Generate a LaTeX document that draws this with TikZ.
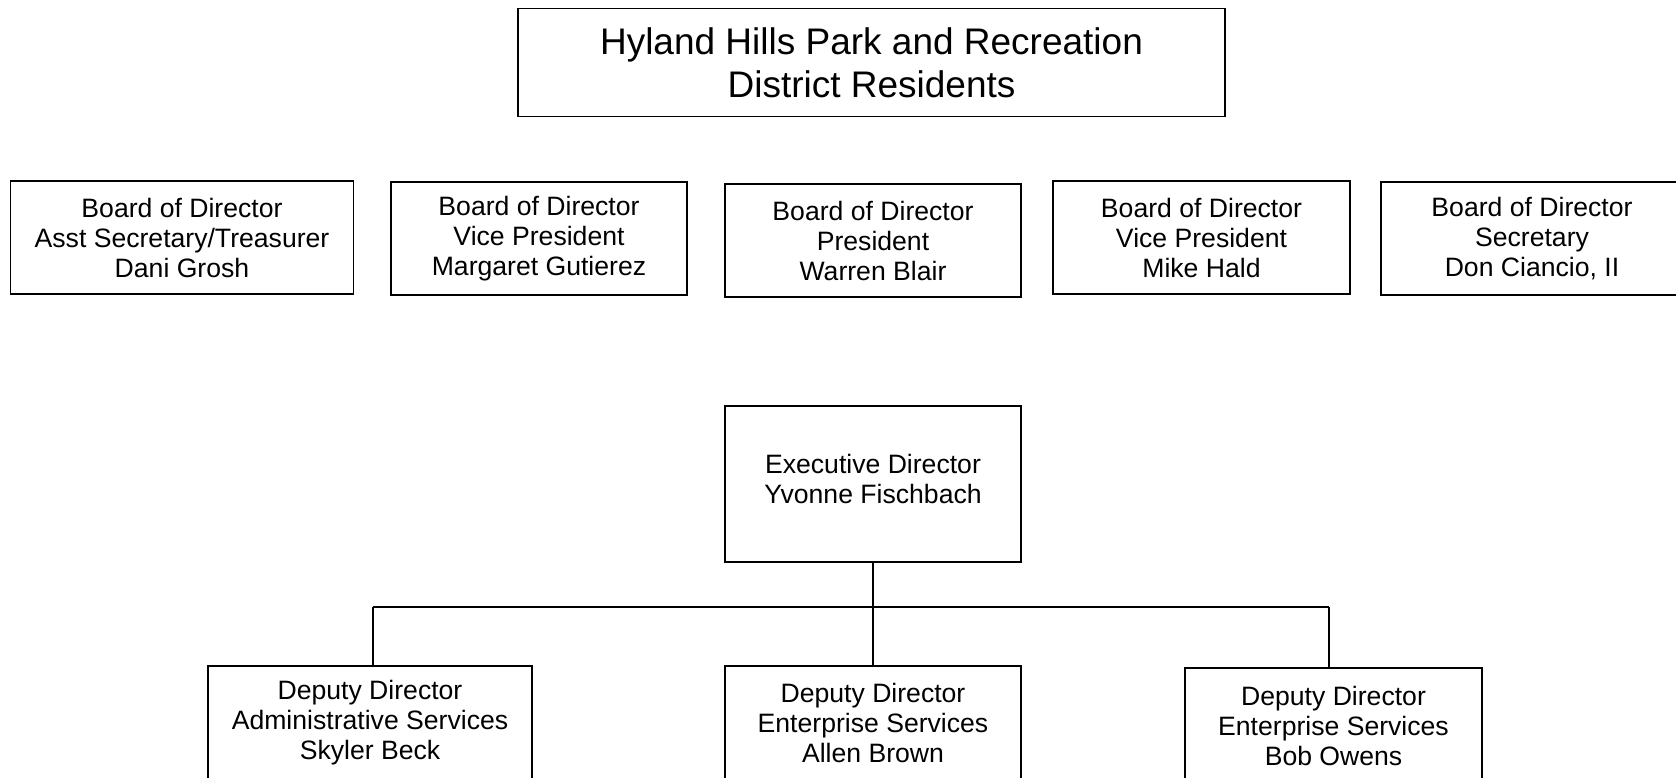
\documentclass[tikz,border=0pt]{standalone}
\usepackage{fontspec}
\setmainfont{Liberation Sans}
\begin{document}
\begin{tikzpicture}[x=1pt,y=-1pt,
  box/.style={draw=black,line width=1.6pt,fill=white,align=center,inner sep=0pt,
    font=\fontsize{26.6}{30}\selectfont},
  link/.style={draw=black,line width=1.6pt}]
\useasboundingbox (0,0) rectangle (1676,777);
\clip (0,0) rectangle (1676,777);
\node[box,minimum width=707pt,minimum height=108pt,font=\fontsize{37}{43}\selectfont] (title) at (871.5,62.5) {Hyland Hills Park and Recreation\\District Residents};
\node[box,minimum width=343pt,minimum height=113pt] (b1) at (182,237.5) {Board of Director\\Asst Secretary/Treasurer\\Dani Grosh};
\node[box,minimum width=296pt,minimum height=113pt] (b2) at (539,238.5) {Board of Director\\Vice President\\Margaret Gutierez};
\node[box,minimum width=296pt,minimum height=113pt] (b3) at (873,240.5) {Board of Director\\President\\Warren Blair};
\node[box,minimum width=297pt,minimum height=113pt] (b4) at (1201.5,237.5) {Board of Director\\Vice President\\Mike Hald};
\node[box,minimum width=302pt,minimum height=113pt] (b5) at (1532,238.5) {Board of Director\\Secretary\\Don Ciancio, II};
\node[box,minimum width=296pt,minimum height=156pt] (exec) at (873,484) {Executive Director\\Yvonne Fischbach\\[-19.5pt]};
\node[box,minimum width=324pt,minimum height=114pt] (d1) at (370,723) {Deputy Director\\Administrative Services\\Skyler Beck};
\node[box,minimum width=296pt,minimum height=114pt] (d2) at (873,723) {Deputy Director\\Enterprise Services\\Allen Brown};
\node[box,minimum width=297pt,minimum height=116pt] (d3) at (1333.5,726) {Deputy Director\\Enterprise Services\\Bob Owens};
\coordinate (bus) at (873,607);
\coordinate (bl) at (373,607);
\coordinate (br) at (1329,607);
\draw[link] (exec.south) -- (bus);
\draw[link] (bl) -- (br);
\draw[link] (bus) -- (d2.north);
\draw[link] (bl) -- (bl |- d1.north);
\draw[link] (br) -- (br |- d3.north);
\end{tikzpicture}
\end{document}
